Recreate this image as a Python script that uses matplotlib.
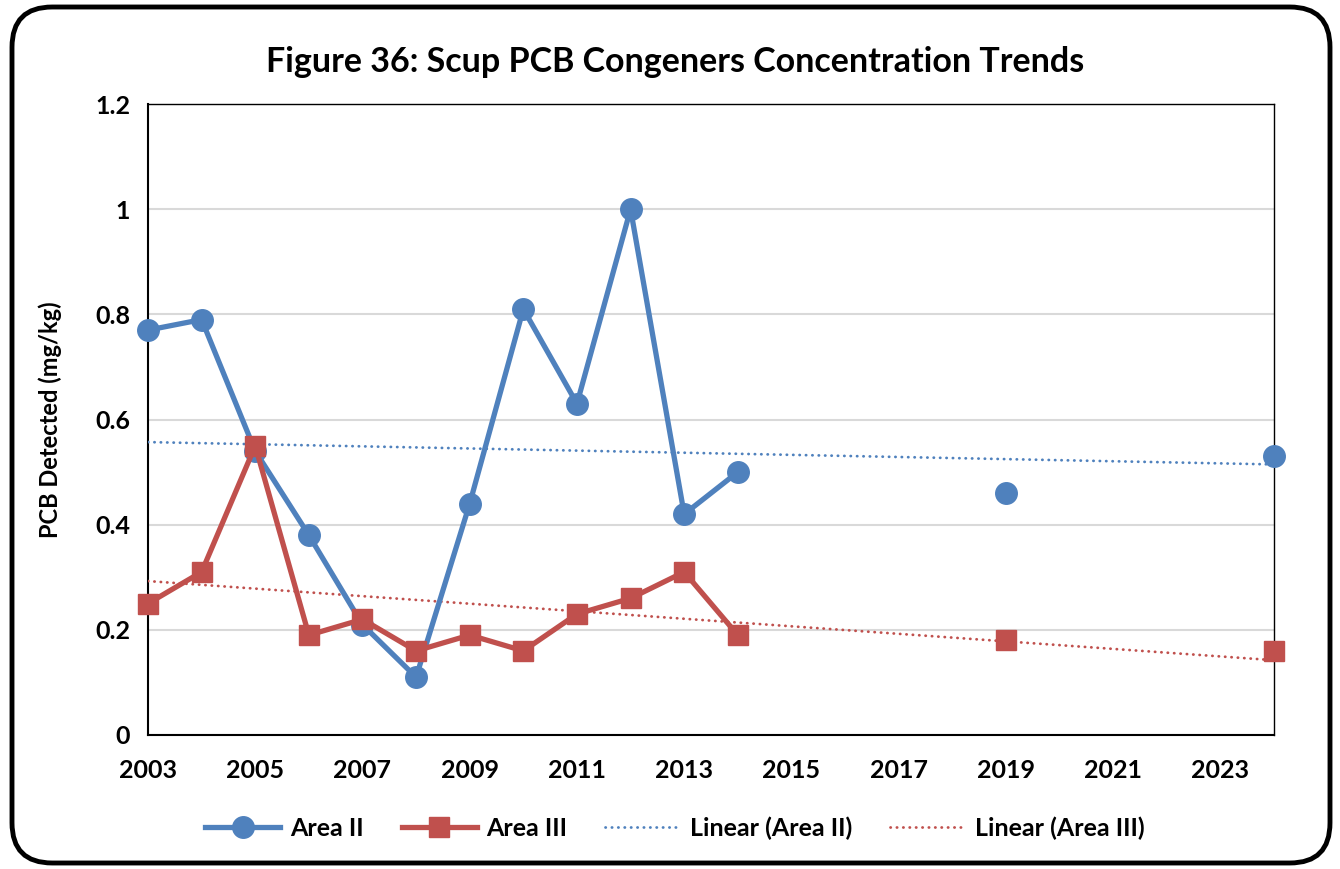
import numpy as np
import matplotlib.pyplot as plt
from matplotlib.patches import FancyBboxPatch

plt.rcParams['font.family'] = ['Lato', 'DejaVu Sans']
plt.rcParams['font.weight'] = 'bold'

# sampling years (no sampling 2015-2018, 2020-2023)
years = list(range(2003, 2025))
area_2 = [0.77, 0.79, 0.54, 0.38, 0.21, 0.11, 0.44, 0.81, 0.63, 1.00, 0.42, 0.50,
          None, None, None, None, 0.46, None, None, None, None, 0.53]
area_3 = [0.25, 0.31, 0.55, 0.19, 0.22, 0.16, 0.19, 0.16, 0.23, 0.26, 0.31, 0.19,
          None, None, None, None, 0.18, None, None, None, None, 0.16]
xticks = list(range(2003, 2025, 2))
yticks = [0, 0.2, 0.4, 0.6, 0.8, 1.0, 1.2]
ytick_labels = ['0', '0.2', '0.4', '0.6', '0.8', '1', '1.2']

blue = '#4F81BD'
red = '#C0504D'

x = np.array(years, dtype=float)
y2 = np.array([np.nan if v is None else v for v in area_2])
y3 = np.array([np.nan if v is None else v for v in area_3])

fig = plt.figure(figsize=(13.4, 8.69), dpi=100)
ax = fig.add_axes([148 / 1340, 1 - 735 / 869, (1274 - 148) / 1340, (735 - 104) / 869])

ax.plot(x, y2, color=blue, lw=3.8, marker='o', ms=15.5, label='Area II',
        zorder=4, clip_on=False)
ax.plot(x, y3, color=red, lw=3.8, marker='s', ms=14, label='Area III',
        zorder=4, clip_on=False)

# least-squares trend lines
xs = np.array([years[0], years[-1]], dtype=float)
for y, c, name in [(y2, blue, 'Linear (Area II)'), (y3, red, 'Linear (Area III)')]:
    ok = ~np.isnan(y)
    k, b = np.polyfit(x[ok], y[ok], 1)
    ax.plot(xs, k * xs + b, color=c, lw=2.0, ls=(0, (0.1, 2.2)),
            dash_capstyle='round', label=name, zorder=3)

ax.set_xlim(2003, 2024)
ax.set_ylim(0, 1.2)
ax.set_xticks(xticks)
ax.set_xticklabels([str(t) for t in xticks], fontsize=18, fontweight='bold')
ax.set_yticks(yticks)
ax.set_yticklabels(ytick_labels, fontsize=18, fontweight='bold')
ax.tick_params(length=0)
ax.tick_params(axis='x', pad=17)
ax.tick_params(axis='y', pad=13)
ax.grid(axis='y', color='#D9D9D9', lw=1.5)
ax.set_axisbelow(True)
for s in ax.spines.values():
    s.set_color('black')
    s.set_linewidth(1.0)
ax.spines['left'].set_linewidth(1.5)
ax.spines['bottom'].set_linewidth(1.5)

ax.set_ylabel('PCB Detected (mg/kg)', fontsize=17, fontweight='bold')
ax.yaxis.set_label_coords((62 - 148) / (1274 - 148), 0.5)
fig.text(0.504, 1 - 62 / 869, 'Figure 36: Scup PCB Congeners Concentration Trends',
         ha='center', va='center', fontsize=24.5, fontweight='bold')

ax.legend(loc='center', bbox_to_anchor=(0.468, (735 - 828) / (735 - 104)), ncol=4,
          frameon=False, handlelength=3.0, columnspacing=1.5,
          handletextpad=0.4, prop={'weight': 'bold', 'size': 18})

border = FancyBboxPatch((12 / 1340, 6 / 869), 1318 / 1340, 856 / 869,
                        boxstyle='round,pad=0,rounding_size=0.03',
                        transform=fig.transFigure, fill=False, ec='black', lw=3.5,
                        mutation_aspect=1340 / 869)
fig.patches.append(border)

fig.savefig('out.png', dpi=100)
